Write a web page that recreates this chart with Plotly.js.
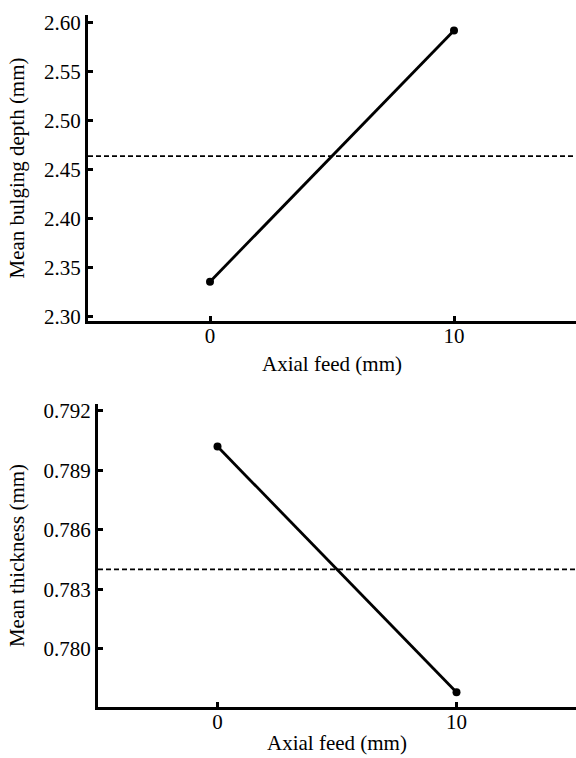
<!DOCTYPE html>
<html>
<head>
<meta charset="utf-8">
<script src="https://cdn.plot.ly/plotly-3.0.1.min.js"></script>
<style>html,body{margin:0;padding:0;background:#fff;}#chart{width:576px;height:758px;}</style>
</head>
<body>
<div id="chart"></div>
<script>
// Data
const axialFeed = [0, 10];
const meanBulgingDepth = [2.336, 2.592];
const meanThickness = [0.7902, 0.7778];
const grandMeanDepth = 2.464;
const grandMeanThickness = 0.7840;
const feedTicks = [0, 10];
const depthTicks = [2.30, 2.35, 2.40, 2.45, 2.50, 2.55, 2.60];
const thicknessTicks = [0.780, 0.783, 0.786, 0.789, 0.792];
const xTitle = 'Axial feed (mm)';

const FONT = 'Liberation Serif';
const fsz = 21;

const lineStyle = {color: 'black', width: 2.8};
const markerStyle = {color: 'black', size: 8};

const traces = [
  {x: axialFeed, y: meanBulgingDepth, xaxis: 'x', yaxis: 'y', mode: 'lines+markers',
   line: lineStyle, marker: markerStyle, showlegend: false, hoverinfo: 'skip'},
  {x: axialFeed, y: meanThickness, xaxis: 'x2', yaxis: 'y2', mode: 'lines+markers',
   line: lineStyle, marker: markerStyle, showlegend: false, hoverinfo: 'skip'}
];

function axis(extra) {
  return Object.assign({
    showline: true, linecolor: 'black', linewidth: 3, mirror: false,
    showgrid: false, zeroline: false, ticks: 'inside', ticklen: 5, tickwidth: 3,
    tickcolor: 'black', tickfont: {family: FONT, size: fsz, color: 'black'}
  }, extra);
}

const layout = {
  width: 576, height: 758,
  margin: {l: 0, r: 0, t: 0, b: 0},
  paper_bgcolor: 'white', plot_bgcolor: 'white',
  font: {family: FONT, size: fsz, color: 'black'},
  xaxis: axis({
    domain: [88/576, 1], range: [-5, 15], tickvals: feedTicks, anchor: 'y',
    ticklabelstandoff: -6,
    title: {text: xTitle, font: {family: FONT, size: fsz, color: 'black'}, standoff: 10}
  }),
  yaxis: axis({
    domain: [(758-321)/758, (758-15)/758], range: [2.2959, 2.6078],
    tickvals: depthTicks, tickformat: '.2f', anchor: 'x',
    title: {text: 'Mean bulging depth (mm)', font: {family: FONT, size: fsz, color: 'black'}, standoff: 14}
  }),
  xaxis2: axis({
    domain: [98/576, 1], range: [-5, 15], tickvals: feedTicks, anchor: 'y2',
    ticklabelstandoff: -6
  }),
  yaxis2: axis({
    domain: [(758-707)/758, (758-404)/758], range: [0.77705, 0.79235],
    tickvals: thicknessTicks, tickformat: '.3f', anchor: 'x2',
    title: {text: 'Mean thickness (mm)', font: {family: FONT, size: fsz, color: 'black'}, standoff: 14}
  }),
  annotations: [
    {text: xTitle, xref: 'x2 domain', yref: 'paper', x: 0.5, y: 0.001,
     xanchor: 'center', yanchor: 'bottom', showarrow: false,
     font: {family: FONT, size: fsz, color: 'black'}}
  ],
  shapes: [
    {type: 'line', xref: 'x domain', yref: 'y', x0: 0, x1: 1, y0: grandMeanDepth, y1: grandMeanDepth,
     line: {color: 'black', width: 1.8, dash: '5px,3px'}},
    {type: 'line', xref: 'x2 domain', yref: 'y2', x0: 0, x1: 1, y0: grandMeanThickness, y1: grandMeanThickness,
     line: {color: 'black', width: 1.8, dash: '5px,3px'}}
  ]
};

Plotly.newPlot('chart', traces, layout, {staticPlot: true, displayModeBar: false});
</script>
</body>
</html>
